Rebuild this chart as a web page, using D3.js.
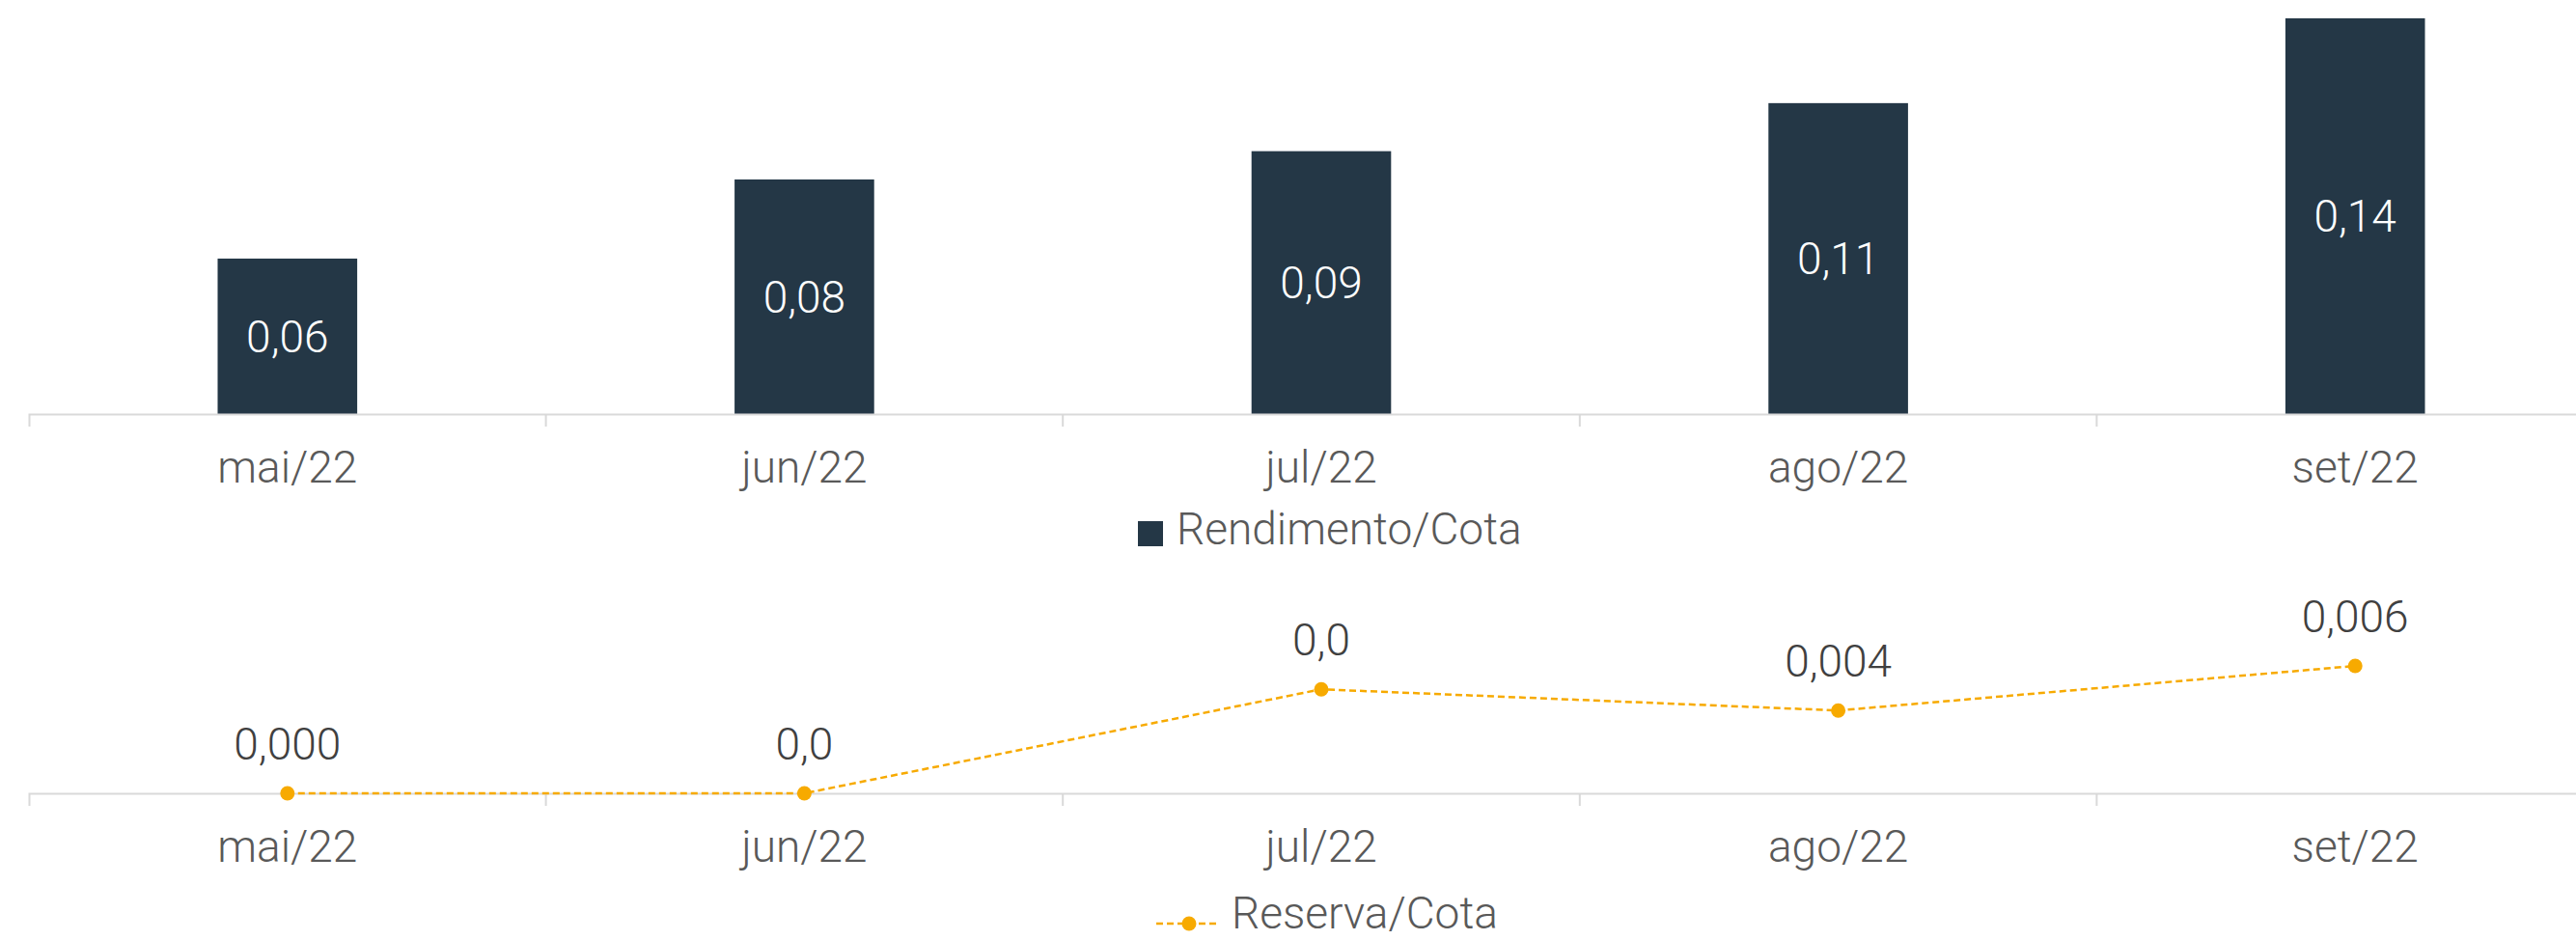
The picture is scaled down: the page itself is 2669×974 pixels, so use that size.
<!DOCTYPE html>
<html>
<head>
<meta charset="utf-8">
<script src="https://cdn.jsdelivr.net/npm/d3@7"></script>
<style>
body{margin:0;background:#fff;}
text{font-family:Roboto, sans-serif;font-weight:300;}
</style>
</head>
<body>
<div id="chart"></div>
<script>
const months = ["mai/22", "jun/22", "jul/22", "ago/22", "set/22"];
const rendimento = [0.055, 0.083, 0.093, 0.11, 0.14];
const rendimentoLabels = ["0,06", "0,08", "0,09", "0,11", "0,14"];
const reserva = [0, 0, 0.0049, 0.0039, 0.006];
const reservaLabels = ["0,000", "0,0", "0,0", "0,004", "0,006"];
const seriesNames = ["Rendimento/Cota", "Reserva/Cota"];

const barColor = "#243746";
const lineColor = "#F7AA00";
const fontSize = 46;

document.addEventListener("DOMContentLoaded", draw);

function drawAxis(svg, x, y0){
    const axis = d3.axisBottom(x).tickSizeInner(0).tickSizeOuter(13);
    const g = svg.append("g")
        .attr("transform", "translate(0," + y0 + ")")
        .call(axis);
    g.select(".domain").attr("stroke", "#d9d9d9").attr("stroke-width", 2);
    g.selectAll("text")
        .attr("dy", null)
        .attr("y", 71)
        .style("font-size", fontSize + "px")
        .attr("fill", "#595959");
    // ticks sit between the bands, not on their centres
    const gap = (x.step() - x.bandwidth()) / 2;
    g.selectAll(".sep")
        .data(x.domain().slice(1))
        .enter()
        .append("line")
        .attr("x1", d => x(d) - gap)
        .attr("x2", d => x(d) - gap)
        .attr("y1", 0)
        .attr("y2", 13)
        .attr("stroke", "#d9d9d9")
        .attr("stroke-width", 2);
}

function draw(){
    const width = 2669;
    const height = 974;
    const svg = d3.select("#chart").append("svg")
        .attr("width", width)
        .attr("height", height);

    const x = d3.scaleBand()
        .domain(months)
        .range([30, 2708])
        .paddingInner(0.73)
        .paddingOuter(0.365);

    // top chart: bars
    const y = d3.scaleLinear().domain([0, 0.14]).range([429, 19]);

    svg.append("g")
        .selectAll("rect")
        .data(rendimento)
        .enter()
        .append("rect")
        .attr("x", (d, i) => x(months[i]))
        .attr("y", d => y(d))
        .attr("width", x.bandwidth())
        .attr("height", d => y(0) - y(d))
        .attr("fill", barColor);

    drawAxis(svg, x, y(0));

    svg.append("g")
        .selectAll("text")
        .data(rendimento)
        .enter()
        .append("text")
        .attr("x", (d, i) => x(months[i]) + x.bandwidth() / 2)
        .attr("y", d => (y(d) + y(0)) / 2)
        .attr("dy", "0.35em")
        .attr("text-anchor", "middle")
        .style("font-size", fontSize + "px")
        .attr("fill", "#fff")
        .text((d, i) => rendimentoLabels[i]);

    const leg1 = svg.append("g").attr("transform", "translate(1179,540)");
    leg1.append("rect").attr("width", 26).attr("height", 26).attr("fill", barColor);
    leg1.append("text")
        .attr("x", 40)
        .attr("y", 24)
        .style("font-size", fontSize + "px")
        .attr("fill", "#595959")
        .text(seriesNames[0]);

    // bottom chart: dashed line
    const y2 = d3.scaleLinear().domain([0, 0.006]).range([822, 690]);
    const cx = (d, i) => x(months[i]) + x.bandwidth() / 2;

    drawAxis(svg, x, y2(0));

    svg.append("path")
        .datum(reserva)
        .attr("d", d3.line().x(cx).y(d => y2(d)))
        .attr("fill", "none")
        .attr("stroke", lineColor)
        .attr("stroke-width", 2.5)
        .attr("stroke-dasharray", "7,4");

    svg.append("g")
        .selectAll("circle")
        .data(reserva)
        .enter()
        .append("circle")
        .attr("cx", cx)
        .attr("cy", d => y2(d))
        .attr("r", 7.5)
        .attr("fill", lineColor);

    svg.append("g")
        .selectAll("text")
        .data(reserva)
        .enter()
        .append("text")
        .attr("x", cx)
        .attr("y", d => y2(d) - 35)
        .attr("text-anchor", "middle")
        .style("font-size", fontSize + "px")
        .attr("fill", "#404040")
        .text((d, i) => reservaLabels[i]);

    const leg2 = svg.append("g").attr("transform", "translate(1198,957)");
    leg2.append("line")
        .attr("x1", 0).attr("x2", 64)
        .attr("stroke", lineColor)
        .attr("stroke-width", 2.5)
        .attr("stroke-dasharray", "7,4");
    leg2.append("circle").attr("cx", 34).attr("r", 7.5).attr("fill", lineColor);
    leg2.append("text")
        .attr("x", 78)
        .attr("y", 5)
        .style("font-size", fontSize + "px")
        .attr("fill", "#595959")
        .text(seriesNames[1]);
}
</script>
</body>
</html>
